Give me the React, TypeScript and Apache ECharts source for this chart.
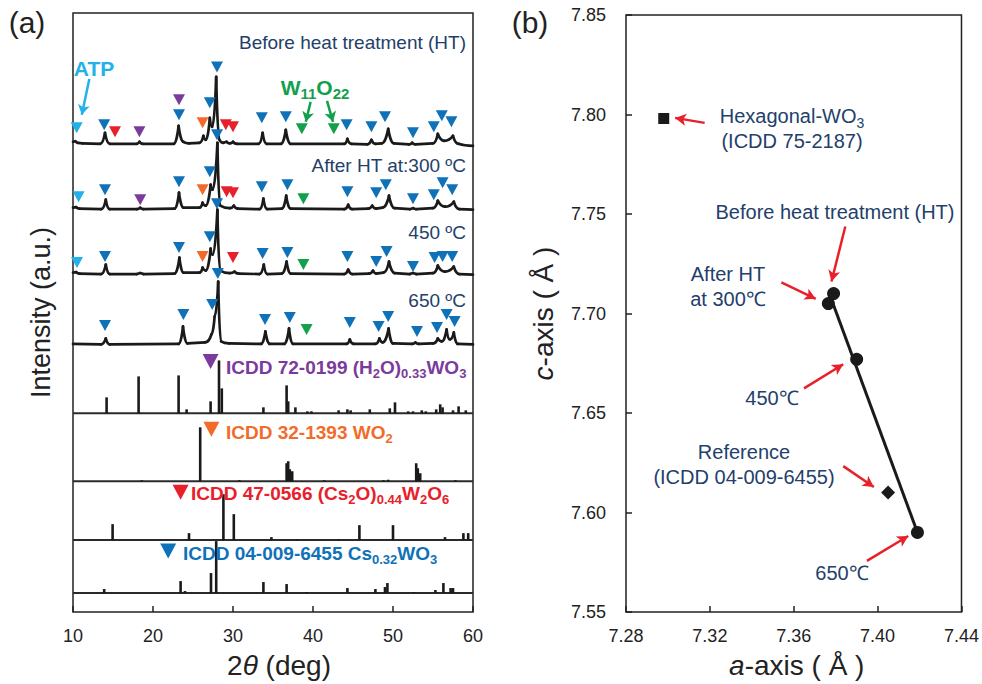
import React, { useEffect, useRef } from "react";
import * as echarts from "echarts";

const FONT = "'Liberation Sans', Arial, Helvetica, sans-serif";
const NAVY = "#23406a";
const INK = "#1a1a1a";

// ---------------- Panel (a): XRD patterns ----------------
const twoThetaTicks = [10, 20, 30, 40, 50, 60];
// vertices of each measured pattern: [2θ (deg), intensity above its own baseline (a.u.)]
const beforeHT = [[10.0,3],[10.3,3.5],[10.6,2],[11.2,1.5],[13.4,1],[14.0,12],[14.6,1],[18.0,1],[18.3,3],[18.7,1],[22.6,1],[23.2,19],[23.8,3],[24.5,1.5],[25.8,2],[26.3,9],[26.6,5],[27.1,27],[27.4,18],[27.9,68],[28.3,5],[28.8,2],[29.2,3],[29.6,1.5],[30.0,3],[30.5,1],[33.2,1],[33.7,12],[34.2,1],[36.0,1],[36.6,15],[37.2,1],[43.9,1],[44.3,6],[44.8,1],[46.8,0.5],[47.3,5],[47.8,1],[48.6,1.5],[49.4,16],[50.1,1.5],[52.0,0.5],[52.4,2],[52.8,0.5],[55.0,1.5],[55.6,11],[56.4,4],[57.5,9],[58.2,1],[60.0,-1]];
const after300 = [[10.0,2],[10.4,2.5],[10.8,1],[13.5,0.5],[14.1,10],[14.6,0.5],[18.0,0.5],[18.4,2],[18.8,0.5],[22.7,1],[23.25,17],[23.8,2],[25.8,2],[26.2,7],[26.6,4],[27.2,25],[27.45,20],[28.05,67],[28.4,4],[29.6,1.5],[30.1,4],[30.6,1],[33.3,0.5],[33.8,11],[34.3,0.5],[36.1,1],[36.65,14],[37.2,1],[43.9,0.5],[44.4,5],[44.9,0.5],[46.9,1],[47.4,4],[47.9,1],[48.7,2],[49.5,14],[50.2,1.5],[52.1,0.5],[52.5,1.5],[52.9,0.5],[55.0,1.5],[55.6,9],[56.5,3],[57.6,8],[58.3,0.5],[60.0,0]];
const after450 = [[10.0,2],[10.4,2.5],[10.8,1],[13.5,0.5],[14.1,10],[14.6,0.5],[18.0,0.5],[18.4,1.5],[18.8,0.5],[22.7,1],[23.3,17],[23.8,2],[25.8,2],[26.2,7],[26.6,4],[27.2,26],[27.45,20],[28.05,65],[28.4,4],[29.6,1.5],[30.2,3],[30.7,1],[33.3,0.5],[33.85,10],[34.3,0.5],[36.1,1],[36.7,13],[37.2,1],[43.9,0.5],[44.4,5],[44.9,0.5],[47.0,1],[47.5,4],[47.9,1],[48.8,2],[49.5,13],[50.2,1.5],[52.1,0.5],[52.5,1.5],[52.9,0.5],[55.0,1.5],[55.6,9],[56.5,3],[57.6,8],[58.3,0.5],[60.0,0]];
const after650 = [[10.0,0.5],[13.5,0],[14.1,6],[14.6,0],[23.2,0.5],[23.75,18],[24.3,1],[26.5,2],[27.3,10],[27.7,28],[28.15,63],[28.5,3],[29.5,1],[33.5,0.5],[34.05,13],[34.6,0.5],[36.4,0.5],[37.0,16],[37.5,0.5],[44.2,0.5],[44.6,5],[45.1,0.5],[47.8,0.5],[48.3,6],[48.7,2],[49.45,16],[50.0,1],[52.4,0.5],[52.8,2],[53.2,0.5],[55.0,1],[55.6,6],[56.1,3],[56.7,15],[57.1,5],[57.6,12],[58.1,0.5],[60.0,0]];
const curveOffsets = [468, 403, 338, 268];
const curveNames = ["Before heat treatment (HT)", "After HT at:300 ºC", "450 ºC", "650 ºC"];

// phase markers: [2θ, height above baseline, phase index]
const PHASE_NAMES = ["ATP", "Cs0.32WO3", "(Cs2O)0.44W2O6", "(H2O)0.33WO3", "WO2", "W11O22"];
const PHASE_COLORS = ["#22b2e8", "#0f72b8", "#e8202a", "#7b3b9c", "#f26b2a", "#12a04c"];
const marksBefore = [[10.46,17,0],[13.9,20,1],[15.25,13,2],[18.3,13,3],[23.25,30,1],[23.25,45,3],[26.2,22,4],[27.1,42,1],[28.0,78,1],[29.1,20,2],[30.0,18,2],[33.6,27,1],[36.6,28,1],[38.6,16,5],[42.6,16,5],[44.2,20,1],[47.3,18,1],[49.0,28,1],[52.5,12,1],[55.1,18,1],[56.1,29,1],[57.3,23,1]];
const marks300 = [[10.7,13,0],[14.0,20,1],[18.4,10,3],[23.25,28,1],[26.2,20,4],[27.1,38,1],[28.0,75,1],[29.2,18,2],[30.0,17,2],[33.6,23,1],[36.8,25,1],[38.8,11,5],[44.3,18,1],[47.9,17,1],[49.1,25,1],[52.5,11,1],[55.1,15,1],[56.2,27,1],[57.4,20,1]];
const marks450 = [[10.5,12,0],[14.0,18,1],[23.25,27,1],[26.2,18,4],[27.1,38,1],[28.0,71,1],[30.0,17,2],[33.7,21,1],[36.8,22,1],[38.8,10,5],[44.3,18,1],[47.9,13,1],[49.2,23,1],[52.5,8,1],[55.2,17,1],[56.2,18,1],[57.4,18,1]];
const marks650 = [[14.0,19,1],[23.8,30,1],[27.4,40,1],[28.1,71,1],[34.0,25,1],[37.1,27,1],[39.2,15,5],[44.6,22,1],[48.2,18,1],[49.4,28,1],[53.0,13,1],[55.5,17,1],[56.7,30,1],[57.7,23,1]];

// reference stick patterns: [2θ, relative intensity]
const refH2O = [[14.2,16],[18.2,37],[23.2,38],[24.2,4],[27.2,12],[28.25,53],[28.6,25],[33.8,6],[36.7,28],[36.9,12],[37.8,6],[39.3,2],[39.8,2],[43.2,3],[44.3,4],[44.7,3],[47.1,4],[49.6,5],[50.25,11],[51.9,2],[52.5,2],[53.6,3],[54.1,2],[55.4,4],[55.9,9],[56.2,6],[57.5,3],[58.2,7],[59.1,3]];
const refWO2 = [[18.6,1],[25.9,54],[30.8,1],[36.7,18],[36.9,20],[37.1,12],[37.4,10],[41.4,1],[48.8,1],[49.4,1.5],[52.9,18],[53.1,13],[53.4,8],[57.8,1]];
const refCs2O = [[14.95,16],[24.5,7],[28.8,46],[30.1,26],[34.8,3],[38.0,1],[43.2,1],[45.8,15],[50.0,15],[56.5,3],[58.8,7],[59.4,7]];
const refCsWO3 = [[13.9,4],[23.45,12],[24.0,2],[27.25,20],[27.9,52],[33.8,11],[36.7,9],[39.2,1],[44.3,5],[47.8,4],[49.0,6],[49.3,10],[52.6,1],[55.3,3],[56.3,10],[57.2,5],[57.5,5]];
const stickBaselines = [199, 131, 72, 19];
const refLabels = [
  "ICDD 72-0199 (H{s|2}O){s|0.33}WO{s|3}",
  "ICDD 32-1393 WO{s|2}",
  "ICDD 47-0566 (Cs{s|2}O){s|0.44}W{s|2}O{s|6}",
  "ICDD 04-009-6455 Cs{s|0.32}WO{s|3}",
];
const refLabelPhase = [3, 4, 2, 1];
// label triangles: [2θ, level]
const refLabelMarks = [[27.2, 251], [27.3, 183], [23.45, 120], [21.9, 61]];

// annotation arrows in panel (a): [[from], [to]] and colour phase
const panelAArrows = [
  [[12.04, 534], [11.1, 498], 0],
  [[39.7, 511], [39.1, 491], 5],
  [[41.75, 512], [42.5, 491], 5],
];

// ---------------- Panel (b): lattice parameters ----------------
const sampleNames = ["Before HT", "After HT at 300℃", "450℃", "650℃"];
const sampleA = [7.379, 7.3765, 7.39, 7.419];
const sampleC = [7.71, 7.705, 7.677, 7.59];
const hexagonalWO3 = [7.298, 7.798];
const referenceCsWO3 = [7.405, 7.61];
const fitLine = [[7.378, 7.707], [7.419, 7.59]];
const aTicks = [7.28, 7.32, 7.36, 7.4, 7.44];
const cTicks = [7.55, 7.6, 7.65, 7.7, 7.75, 7.8, 7.85];
const panelBArrows = [
  [[7.3175, 7.7958], [7.3034, 7.7983]],
  [[7.3846, 7.7437], [7.378, 7.7161]],
  [[7.3541, 7.7156], [7.3705, 7.7074]],
  [[7.3649, 7.6624], [7.3836, 7.6745]],
  [[7.3836, 7.6233], [7.3982, 7.6128]],
  [[7.3949, 7.5757], [7.4146, 7.5882]],
];

function renderCurveSegment(params: any, api: any) {
  const q = api.coord([api.value(0), api.value(1)]);
  const p = api.coord([api.value(2), api.value(3)]);
  const dx = q[0] - p[0];
  const dy = q[1] - p[1];
  let d: string;
  if (Math.abs(dy) < 1.2) {
    d = `M${p[0]},${p[1]}L${q[0]},${q[1]}`;
  } else if (dy < 0) {
    d = `M${p[0]},${p[1]}C${p[0] + 0.5 * dx},${p[1]} ${q[0] - 0.12 * dx},${q[1] - 0.3 * dy} ${q[0]},${q[1]}`;
  } else {
    d = `M${p[0]},${p[1]}C${p[0] + 0.12 * dx},${p[1] + 0.3 * dy} ${q[0] - 0.5 * dx},${q[1]} ${q[0]},${q[1]}`;
  }
  return {
    type: "path",
    shape: { pathData: d },
    style: { fill: "none", stroke: INK, lineWidth: 2.7, lineCap: "round", lineJoin: "round" },
  };
}

function renderStick(params: any, api: any) {
  const a = api.coord([api.value(0), api.value(1)]);
  const b = api.coord([api.value(0), api.value(2)]);
  return {
    type: "line",
    shape: { x1: a[0], y1: a[1], x2: b[0], y2: b[1] },
    style: { stroke: INK, lineWidth: 2.6 },
  };
}

function text(x: number, y: number, t: string, o: any = {}) {
  const size = o.size ?? 19;
  const color = o.color ?? NAVY;
  const weight = o.weight ?? "normal";
  return {
    type: "text",
    x,
    y,
    silent: true,
    z: 20,
    style: {
      text: t,
      fontFamily: FONT,
      fontSize: size,
      fontWeight: weight,
      fill: color,
      align: o.align ?? "center",
      verticalAlign: "middle",
      lineHeight: size + 7,
      rich: {
        s: {
          fontFamily: FONT,
          fontSize: Math.round(size * 0.7),
          fontWeight: weight,
          fill: color,
          verticalAlign: "bottom",
          lineHeight: Math.round(size * 0.7),
        },
      },
    },
  };
}

export default function App() {
  const ref = useRef<HTMLDivElement>(null);

  useEffect(() => {
    if (!ref.current) return;
    const chart = echarts.init(ref.current, undefined, { renderer: "svg" });

    const curves = [beforeHT, after300, after450, after650];
    const curveSeries = curves.map((pts, k) => ({
      type: "custom",
      name: curveNames[k],
      coordinateSystem: "cartesian2d",
      xAxisIndex: 0,
      yAxisIndex: 0,
      silent: true,
      z: 3,
      encode: { x: [0, 2], y: [1, 3] },
      data: pts.slice(1).map((p, i) => [p[0], p[1] + curveOffsets[k], pts[i][0], pts[i][1] + curveOffsets[k]]),
      renderItem: renderCurveSegment,
    }));

    const markSets = [marksBefore, marks300, marks450, marks650];
    const markerSeries = PHASE_COLORS.map((c, ph) => ({
      type: "scatter",
      name: PHASE_NAMES[ph],
      xAxisIndex: 0,
      yAxisIndex: 0,
      silent: true,
      z: 6,
      symbol: "triangle",
      symbolRotate: 180,
      symbolSize: [12, 11],
      itemStyle: { color: c, opacity: 1 },
      data: markSets.flatMap((ms, k) => ms.filter((m) => m[2] === ph).map((m) => [m[0], m[1] + curveOffsets[k]])),
      markLine: {
        silent: true,
        animation: false,
        symbol: ["none", "arrow"],
        symbolSize: [9, 10],
        label: { show: false },
        lineStyle: { color: c, width: 2.5, type: "solid", opacity: 1 },
        data: panelAArrows
          .filter((a) => a[2] === ph)
          .map((a: any) => [{ coord: a[0] }, { coord: a[1] }]),
      },
    }));

    const refs = [refH2O, refWO2, refCs2O, refCsWO3];
    const stickSeries = refs.map((r, k) => ({
      type: "custom",
      name: PHASE_NAMES[refLabelPhase[k]],
      coordinateSystem: "cartesian2d",
      xAxisIndex: 0,
      yAxisIndex: 0,
      silent: true,
      z: 3,
      encode: { x: 0, y: [1, 2] },
      data: r.map((s) => [s[0], stickBaselines[k], stickBaselines[k] + s[1]]),
      renderItem: renderStick,
    }));
    const baselineSeries = stickBaselines.map((b) => ({
      type: "line",
      xAxisIndex: 0,
      yAxisIndex: 0,
      silent: true,
      z: 2,
      symbol: "none",
      lineStyle: { color: "#2a2a2a", width: 2 },
      data: [[10, b], [60, b]],
    }));
    const refLabelMarkSeries = {
      type: "scatter",
      xAxisIndex: 0,
      yAxisIndex: 0,
      silent: true,
      z: 6,
      symbol: "triangle",
      symbolRotate: 180,
      symbolSize: [16, 15],
      data: refLabelMarks.map((m, k) => ({ value: m, itemStyle: { color: PHASE_COLORS[refLabelPhase[k]], opacity: 1 } })),
    };

    const tickLabelStyle = { color: "#222", fontSize: 18, fontFamily: FONT };
    const tickStyle = { show: true, inside: true, length: 6, lineStyle: { color: "#222", width: 1.5 } };
    const nameStyle = (extra: any = {}) => ({
      fontSize: 28,
      color: "#222",
      fontFamily: FONT,
      rich: { i: { fontSize: 28, fontStyle: "italic", fontFamily: FONT, color: "#222" } },
      ...extra,
    });

    const graphic: any[] = [
      text(27, 22, "(a)", { size: 30, color: "#222" }),
      text(530, 22, "(b)", { size: 30, color: "#222" }),
      text(466, 42, curveNames[0], { align: "right" }),
      text(466, 165, curveNames[1], { align: "right" }),
      text(466, 232, curveNames[2], { align: "right" }),
      text(466, 300, curveNames[3], { align: "right" }),
      text(94, 68, "ATP", { size: 21, weight: "bold", color: PHASE_COLORS[0] }),
      text(315, 87, "W{s|11}O{s|22}", { size: 21, weight: "bold", color: PHASE_COLORS[5] }),
      text(226, 367, refLabels[0], { align: "left", weight: "bold", color: PHASE_COLORS[3] }),
      text(226, 432, refLabels[1], { align: "left", weight: "bold", color: PHASE_COLORS[4] }),
      text(191, 493, refLabels[2], { align: "left", weight: "bold", color: PHASE_COLORS[2] }),
      text(183, 553, refLabels[3], { align: "left", weight: "bold", color: PHASE_COLORS[1] }),
      text(792, 116, "Hexagonal-WO{s|3}", { size: 20 }),
      text(792, 141, "(ICDD 75-2187)", { size: 20 }),
      text(835, 212, "Before heat treatment (HT)", { size: 20 }),
      text(728, 274, "After HT", { size: 20 }),
      text(728, 299, "at 300℃", { size: 20 }),
      text(772, 398, "450℃", { size: 20 }),
      text(744, 452, "Reference", { size: 20 }),
      text(744, 477, "(ICDD 04-009-6455)", { size: 20 }),
      text(842, 573, "650℃", { size: 20 }),
    ];

    const option: any = {
      animation: false,
      backgroundColor: "#ffffff",
      textStyle: { fontFamily: FONT },
      grid: [
        { left: 73, top: 13, width: 400, height: 600, show: true, borderColor: "#222", borderWidth: 1.5, backgroundColor: "transparent" },
        { left: 626, top: 15, width: 341, height: 598, show: true, borderColor: "#222", borderWidth: 1.5, backgroundColor: "transparent" },
      ],
      xAxis: [
        {
          gridIndex: 0,
          type: "value",
          min: twoThetaTicks[0],
          max: twoThetaTicks[twoThetaTicks.length - 1],
          interval: 10,
          axisLine: { show: false },
          axisTick: tickStyle,
          splitLine: { show: false },
          axisLabel: { ...tickLabelStyle, margin: 15 },
          name: "2{i|θ} (deg)",
          nameLocation: "middle",
          nameGap: 39,
          nameTextStyle: nameStyle({ padding: [0, 0, 0, 12] }),
        },
        {
          gridIndex: 1,
          type: "value",
          min: aTicks[0],
          max: aTicks[aTicks.length - 1],
          interval: 0.04,
          axisLine: { show: false },
          axisTick: tickStyle,
          splitLine: { show: false },
          axisLabel: { ...tickLabelStyle, margin: 15, formatter: (v: number) => v.toFixed(2) },
          name: "{i|a}-axis ( Å )",
          nameLocation: "middle",
          nameGap: 39,
          nameTextStyle: nameStyle({ padding: [0, 0, 0, 6] }),
        },
      ],
      yAxis: [
        {
          gridIndex: 0,
          type: "value",
          min: 0,
          max: 600,
          axisLine: { show: false },
          axisTick: { show: false },
          axisLabel: { show: false },
          splitLine: { show: false },
          name: "Intensity (a.u.)",
          nameLocation: "middle",
          nameGap: 19,
          nameTextStyle: { fontSize: 27, color: "#222", fontFamily: FONT },
        },
        {
          gridIndex: 1,
          type: "value",
          min: cTicks[0],
          max: cTicks[cTicks.length - 1],
          interval: 0.05,
          axisLine: { show: false },
          axisTick: tickStyle,
          splitLine: { show: false },
          axisLabel: { ...tickLabelStyle, margin: 20, formatter: (v: number) => v.toFixed(2) },
          name: "{i|c}-axis ( Å )",
          nameLocation: "middle",
          nameGap: 69,
          nameTextStyle: nameStyle(),
        },
      ],
      graphic,
      series: [
        ...baselineSeries,
        ...stickSeries,
        ...curveSeries,
        ...markerSeries,
        refLabelMarkSeries,
        {
          type: "line",
          name: "Linear fit",
          xAxisIndex: 1,
          yAxisIndex: 1,
          silent: true,
          symbol: "none",
          z: 3,
          lineStyle: { color: INK, width: 3 },
          data: fitLine,
          markLine: {
            silent: true,
            animation: false,
            symbol: ["none", "arrow"],
            symbolSize: [9, 11],
            label: { show: false },
            lineStyle: { color: "#e8202a", width: 2.5, type: "solid", opacity: 1 },
            data: panelBArrows.map((a) => [{ coord: a[0] }, { coord: a[1] }]),
          },
        },
        {
          type: "scatter",
          name: "Samples",
          xAxisIndex: 1,
          yAxisIndex: 1,
          silent: true,
          z: 5,
          symbol: "circle",
          symbolSize: 13,
          itemStyle: { color: INK, opacity: 1 },
          data: sampleA.map((a, i) => ({ name: sampleNames[i], value: [a, sampleC[i]] })),
        },
        {
          type: "scatter",
          name: "Hexagonal-WO3",
          xAxisIndex: 1,
          yAxisIndex: 1,
          silent: true,
          z: 5,
          symbol: "rect",
          symbolSize: 11,
          itemStyle: { color: INK, opacity: 1 },
          data: [hexagonalWO3],
        },
        {
          type: "scatter",
          name: "Reference Cs0.32WO3",
          xAxisIndex: 1,
          yAxisIndex: 1,
          silent: true,
          z: 5,
          symbol: "diamond",
          symbolSize: 14,
          itemStyle: { color: INK, opacity: 1 },
          data: [referenceCsWO3],
        },
      ],
    };

    chart.setOption(option);
    return () => chart.dispose();
  }, []);

  return (
    <div
      ref={ref}
      style={{ position: "fixed", left: 0, top: 0, width: 982, height: 684, background: "#fff" }}
    />
  );
}
